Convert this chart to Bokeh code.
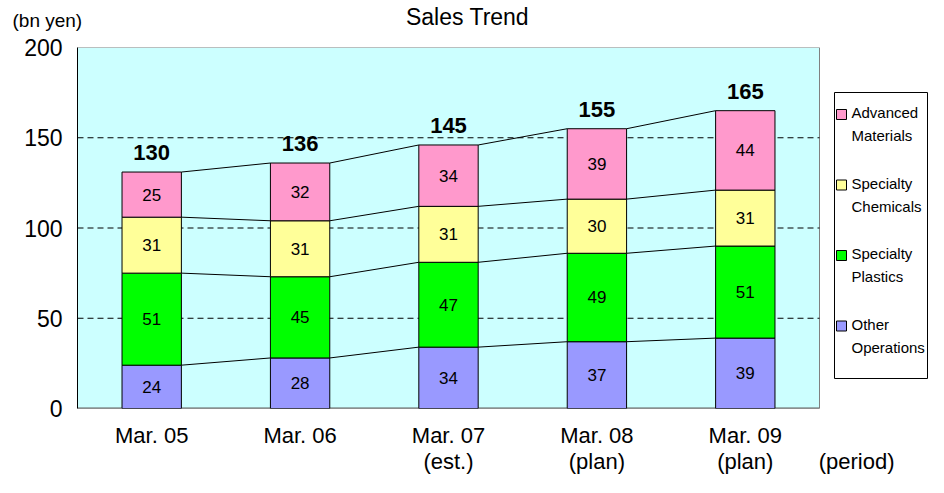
from bokeh.plotting import figure
from bokeh.layouts import column, row
from bokeh.models import Range1d, FixedTicker, ColumnDataSource
from bokeh.embed import file_html
from bokeh.resources import INLINE
from bokeh.core.properties import value

# ---------------- data ----------------
categories = ["Mar. 05", "Mar. 06", "Mar. 07\n(est.)", "Mar. 08\n(plan)", "Mar. 09\n(plan)"]
other_operations = [24, 28, 34, 37, 39]
specialty_plastics = [51, 45, 47, 49, 51]
specialty_chemicals = [31, 31, 31, 30, 31]
advanced_materials = [25, 32, 34, 39, 44]
totals = [130, 136, 145, 155, 165]
series_names = ["Other\nOperations", "Specialty\nPlastics", "Specialty\nChemicals", "Advanced\nMaterials"]
y_ticks = [0, 50, 100, 150, 200]
grid_ticks = [50, 100, 150]
title_text = "Sales Trend"
y_unit = "(bn yen)"
x_unit = "(period)"

series = [other_operations, specialty_plastics, specialty_chemicals, advanced_materials]
keys = ["other", "plastics", "chemicals", "advanced"]
colors = ["#9999FF", "#00FF00", "#FFFF99", "#FF99CC"]
FONT = "Liberation Sans"

n = len(categories)
xs = [i + 0.5 for i in range(n)]
BAR_W = 0.4

# layout (page pixels)
TOTAL_W, TOTAL_H = 928, 477
HEAD_H = 35
MAIN_H = TOTAL_H - HEAD_H
F_LEFT, F_RIGHT_PLOT, F_TOP, F_BOTTOM = 77, 819, 47, 408
PX_PER_CAT = (F_RIGHT_PLOT - F_LEFT) / n
x_end = (TOTAL_W - F_LEFT) / PX_PER_CAT
y_max = y_ticks[-1]

# ---------------- header (title + unit) ----------------
head = figure(width=TOTAL_W, height=HEAD_H, output_backend="svg", toolbar_location=None,
              x_range=Range1d(0, TOTAL_W), y_range=Range1d(HEAD_H, 0),
              x_axis_type=None, y_axis_type=None, min_border=0, title=None)
head.outline_line_color = None
head.xgrid.visible = False
head.ygrid.visible = False
head.text(x=[467], y=[16], text=[title_text], text_align="center", text_baseline="middle",
          text_font=value(FONT), text_font_size="23px", text_color="black")
head.text(x=[12], y=[20], text=[y_unit], text_align="left", text_baseline="middle",
          text_font=value(FONT), text_font_size="19px", text_color="black")

# ---------------- main chart ----------------
p = figure(width=TOTAL_W, height=MAIN_H, output_backend="svg", toolbar_location=None, title=None,
           x_range=Range1d(0, x_end), y_range=Range1d(0, y_max),
           min_border_left=F_LEFT, min_border_right=0, min_border_top=F_TOP - HEAD_H,
           min_border_bottom=MAIN_H - (F_TOP - HEAD_H) - (F_BOTTOM - F_TOP))
p.extra_x_ranges = {"px": Range1d(F_LEFT, TOTAL_W)}
p.extra_y_ranges = {"px": Range1d(F_BOTTOM, F_TOP)}
p.background_fill_color = "white"
p.border_fill_color = "white"
p.outline_line_color = None

p.yaxis.ticker = FixedTicker(ticks=y_ticks)
p.yaxis.major_tick_line_color = None
p.yaxis.minor_tick_line_color = None
p.yaxis.major_tick_out = 0
p.yaxis.major_tick_in = 0
p.yaxis.minor_tick_out = 0
p.yaxis.axis_line_color = "black"
p.yaxis.major_label_text_font = FONT
p.yaxis.major_label_text_font_size = "23px"
p.yaxis.major_label_text_color = "black"
p.yaxis.major_label_standoff = 15

x_period = n + 0.25
p.xaxis.ticker = FixedTicker(ticks=xs + [x_period])
overrides = {x: c for x, c in zip(xs, categories)}
overrides[x_period] = "\n" + x_unit
p.xaxis.major_label_overrides = overrides
p.xaxis.major_tick_line_color = None
p.xaxis.minor_tick_line_color = None
p.xaxis.major_tick_out = 0
p.xaxis.major_tick_in = 0
p.xaxis.minor_tick_out = 0
p.xaxis.axis_line_color = None
p.xaxis.major_label_text_font = FONT
p.xaxis.major_label_text_font_size = "22px"
p.xaxis.major_label_text_color = "black"
p.xaxis.major_label_standoff = 14
p.xaxis.major_label_text_line_height = 1.05

p.xgrid.visible = False
p.ygrid.visible = False

# plot area background and border
p.quad(left=[0], right=[n], bottom=[0], top=[y_max], fill_color="#CCFFFF",
       line_color="#808080", line_width=1)
# dashed gridlines over the plot area only
p.segment(x0=[0] * len(grid_ticks), x1=[n] * len(grid_ticks), y0=grid_ticks, y1=grid_ticks,
          line_color="black", line_dash="6 4", line_width=1)
# bottom axis line
p.segment(x0=[0], x1=[n], y0=[0], y1=[0], line_color="#606060", line_width=2)

data = {"x": xs}
for k, s in zip(keys, series):
    data[k] = s
src = ColumnDataSource(data)
p.vbar_stack(keys, x="x", width=BAR_W, source=src,
             fill_color=colors, line_color="black", line_width=1)

cum = []
run = [0] * n
for s in series:
    run = [a + b for a, b in zip(run, s)]
    cum.append(run)

sx0, sx1, sy0, sy1 = [], [], [], []
for level in cum:
    for i in range(n - 1):
        sx0.append(xs[i] + BAR_W / 2)
        sx1.append(xs[i + 1] - BAR_W / 2)
        sy0.append(level[i])
        sy1.append(level[i + 1])
p.segment(x0=sx0, y0=sy0, x1=sx1, y1=sy1, line_color="black", line_width=1)

lx, ly, lt = [], [], []
base = [0] * n
for s in series:
    for i in range(n):
        lx.append(xs[i])
        ly.append(base[i] + s[i] / 2)
        lt.append(str(s[i]))
    base = [a + b for a, b in zip(base, s)]
p.text(x=lx, y=ly, text=lt, text_align="center", text_baseline="middle",
       text_font=value(FONT), text_font_size="17px", text_color="black")

p.text(x=xs, y=cum[-1], text=[str(t) for t in totals], text_align="center",
       text_baseline="bottom", y_offset=-12, text_font=value(FONT),
       text_font_size="22px", text_font_style="bold", text_color="black")

# ---------------- legend (drawn in pixel coordinates, right of plot area) ----------------
kw = dict(x_range_name="px", y_range_name="px")
p.quad(left=[834], right=[927], top=[92], bottom=[378], fill_color="white",
       line_color="black", line_width=1, **kw)
order = list(reversed(range(len(series_names))))
sq_y = [114 + j * 70.5 for j in range(len(order))]
p.rect(x=[841] * len(order), y=sq_y, width=10, height=10,
       fill_color=[colors[i] for i in order], line_color="black", line_width=1, **kw)
tx, ty, tt = [], [], []
for j, i in enumerate(order):
    first, second = series_names[i].split("\n")
    tx += [851, 851]
    ty += [sq_y[j] - 2, sq_y[j] + 21]
    tt += [first, second]
p.text(x=tx, y=ty, text=tt, text_align="left", text_baseline="middle",
       text_font=value(FONT), text_font_size="15px", text_color="black", **kw)

layout = column(head, row(p, spacing=0), spacing=0)
open("out.html", "w").write(file_html(layout, INLINE))
